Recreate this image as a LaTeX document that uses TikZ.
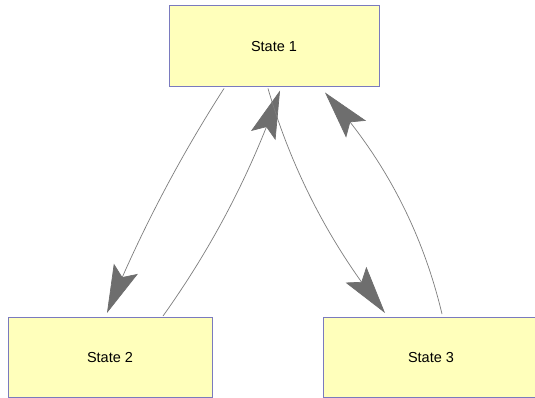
\documentclass[tikz,border=0pt]{standalone}
\usepackage{fontspec}
\setmainfont{Liberation Sans}
\usetikzlibrary{arrows.meta,bending,calc}
\definecolor{boxfill}{RGB}{255,255,187}
\definecolor{boxline}{RGB}{122,122,190}
\definecolor{edgeline}{RGB}{125,125,125}
\definecolor{headfill}{RGB}{110,110,110}
\begin{document}
\begin{tikzpicture}[x=1pt,y=-1pt,
  statebox/.style={draw=boxline, fill=boxfill, line width=1pt, inner sep=0pt,
    font=\fontsize{14.5}{17}\selectfont},
  trans/.style={draw=edgeline, line width=0.7pt,
    -{Stealth[length=48pt,width=26pt,inset=9pt,fill=headfill,color=headfill,flex]}}]
\useasboundingbox (0,0) rectangle (535,398);
\clip (0,0) rectangle (535,398);
\fill[white] (0,0) rectangle (535,398);
\node[statebox, minimum width=210pt, minimum height=81pt] (s1) at (274,46.5) {State 1};
\node[statebox, minimum width=204pt, minimum height=80pt] (s2) at (110,357.5) {State 2};
\node[statebox, minimum width=216pt, minimum height=80pt] (s3) at (431,357.5) {State 3};
% end points on the boxes
\coordinate (a1) at ($(s1.south)+(-50,1)$);
\coordinate (b1) at ($(s2.north)+(-3,-4)$);
\coordinate (a2) at ($(s2.north)+(53,-1)$);
\coordinate (b2) at ($(s1.south)+(6,3)$);
\coordinate (a3) at ($(s1.south)+(-6,1)$);
\coordinate (b3) at ($(s3.north)+(-46,-4)$);
\coordinate (a4) at ($(s3.north)+(11,-3)$);
\coordinate (b4) at ($(s1.south)+(51,5)$);
\draw[trans] (a1) .. controls (178,160) and (139,235) .. (b1);
\draw[trans] (a2) .. controls (213,246) and (252,171) .. (b2);
\draw[trans] (a3) .. controls (292,171) and (331,246) .. (b3);
\draw[trans] (a4) .. controls (422,230) and (383,156) .. (b4);
\end{tikzpicture}
\end{document}
